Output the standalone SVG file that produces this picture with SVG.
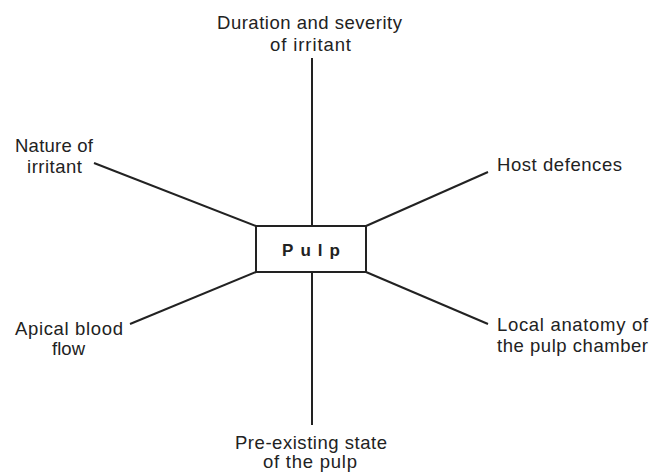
<svg xmlns="http://www.w3.org/2000/svg" width="651" height="473" viewBox="0 0 651 473">
<style>
text{font-family:"Liberation Sans",Arial,sans-serif;font-size:18.5px;fill:#222}
.c{stroke:#222;stroke-width:2;fill:none}
</style>
<rect width="651" height="473" fill="#fff"/>
<g id="connectors">
<line class="c" x1="312" y1="58" x2="312" y2="226"/>
<line class="c" x1="312" y1="272" x2="312" y2="425"/>
<line class="c" x1="94" y1="163" x2="256" y2="226"/>
<line class="c" x1="488" y1="172" x2="366" y2="226"/>
<line class="c" x1="130" y1="324" x2="256" y2="272"/>
<line class="c" x1="488" y1="324" x2="366" y2="272"/>
</g>
<g id="pulp">
<rect class="c" x="256" y="226" width="110" height="46"/>
<text x="282" y="256" font-weight="bold" textLength="58" style="font-size:17px">Pulp</text>
</g>
<g id="duration">
<text x="217" y="29" textLength="185">Duration and severity</text>
<text x="270" y="51" textLength="81">of irritant</text>
</g>
<g id="nature">
<text x="15" y="152" textLength="78">Nature of</text>
<text x="27" y="173" textLength="55">irritant</text>
</g>
<g id="host">
<text x="497" y="171" textLength="125">Host defences</text>
</g>
<g id="apical">
<text x="15" y="335" textLength="108">Apical blood</text>
<text x="52" y="355" textLength="33">flow</text>
</g>
<g id="local">
<text x="497" y="331" textLength="151">Local anatomy of</text>
<text x="497" y="352" textLength="151">the pulp chamber</text>
</g>
<g id="preexisting">
<text x="235" y="449" textLength="152">Pre-existing state</text>
<text x="263" y="468" textLength="94">of the pulp</text>
</g>
</svg>
